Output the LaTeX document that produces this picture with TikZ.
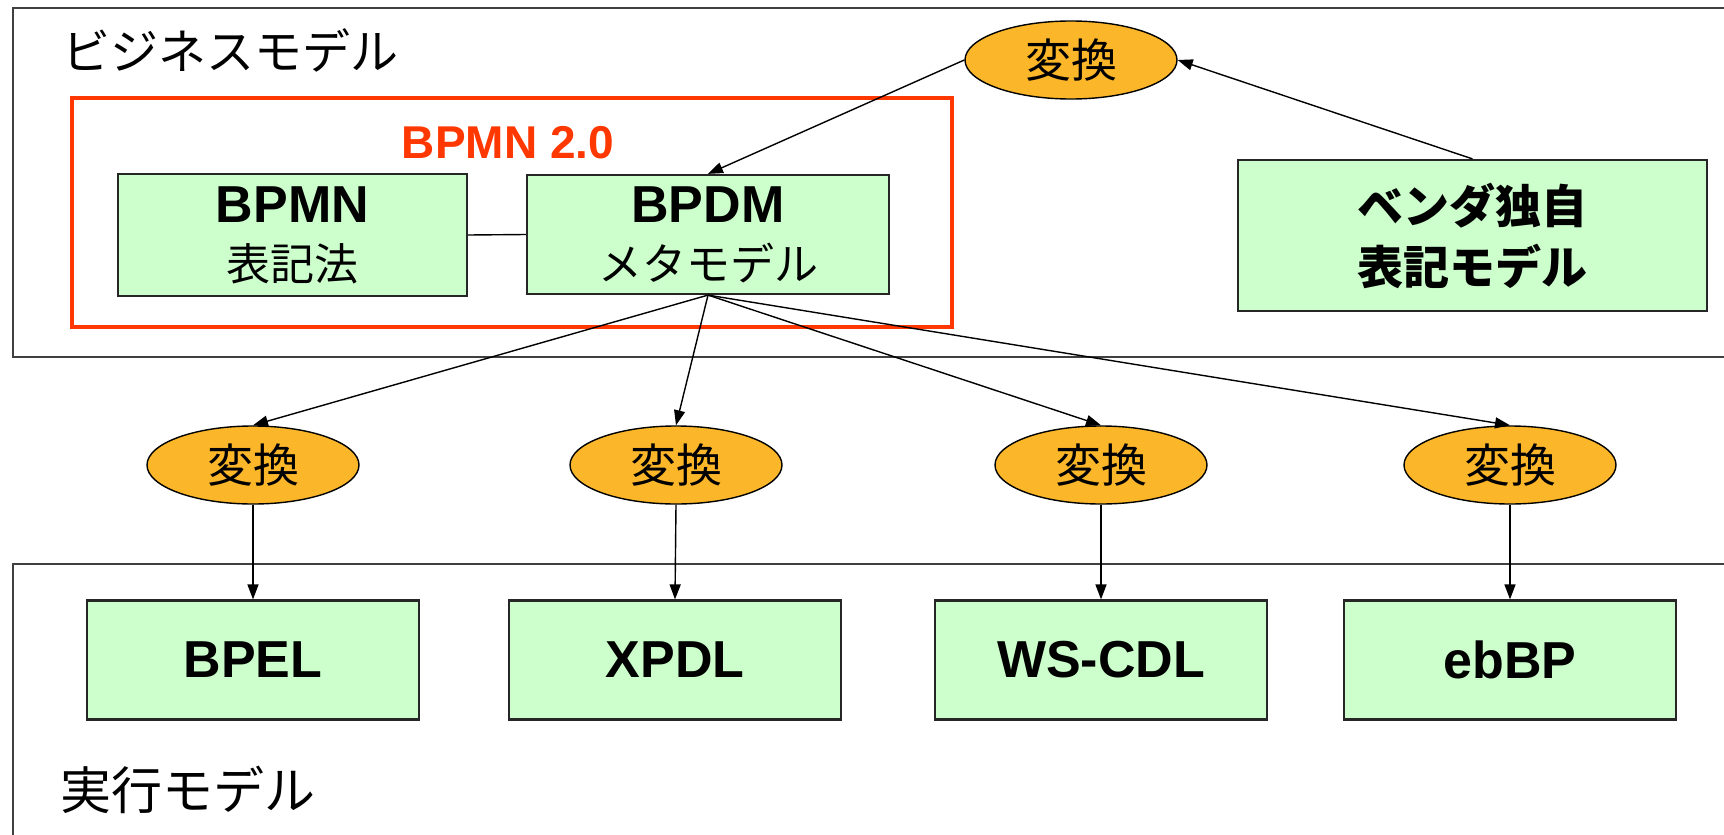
\documentclass[tikz,border=0pt]{standalone}
\usepackage{fontspec}
\setmainfont{Liberation Sans}
\newfontfamily\jp{Noto Sans CJK JP}
\usetikzlibrary{shapes.geometric,arrows.meta}
\definecolor{boxgreen}{RGB}{204,255,204}
\definecolor{convorange}{RGB}{252,182,41}
\definecolor{bpmnred}{RGB}{255,55,0}
\begin{document}
\begin{tikzpicture}[x=1pt,y=-1pt,
  box/.style={draw=black!85, line width=2.2pt, fill=boxgreen, inner sep=0pt, align=center},
  conv/.style={ellipse, draw=black, line width=1.4pt, fill=convorange, minimum width=212pt, minimum height=78pt, inner sep=0pt, font=\jp\fontsize{46}{50}\selectfont},
  arr/.style={line width=1.4pt, -{Triangle[length=15pt,width=11pt]}},
  frame/.style={draw=black!75, line width=2pt},
  latin/.style={font=\bfseries\fontsize{52}{58}\selectfont}]
\useasboundingbox (0,0) rectangle (1724,835);
\fill[white] (0,0) rectangle (1724,835);
% frames
\draw[frame] (1724,8) -- (13,8) -- (13,357) -- (1724,357);
\draw[frame] (1724,564) -- (13,564) -- (13,835);
\node[anchor=west, inner sep=0pt, font=\jp\fontsize{48}{50}\selectfont] (biz) at (62,50) {ビジネスモデル};
\node[anchor=west, inner sep=0pt, font=\jp\fontsize{51}{52}\selectfont] (exe) at (60,790) {実行モデル};
% BPMN 2.0 group
\node[draw=bpmnred, line width=4.5pt, minimum width=880pt, minimum height=229pt, inner sep=0pt] (grp) at (512,212.5) {};
\node[text=bpmnred, font=\bfseries\fontsize{46}{50}\selectfont, inner sep=0pt] (grplabel) at (508,143) {BPMN 2.0};
\node[box, minimum width=349pt, minimum height=122pt, font=\bfseries\fontsize{52}{58}\selectfont] (bpmn) at (292.5,235) {BPMN\\{\jp\mdseries\fontsize{44}{58}\selectfont 表記法}};
\node[box, minimum width=362pt, minimum height=119pt, font=\bfseries\fontsize{52}{58}\selectfont] (bpdm) at (708,234.5) {BPDM\\{\jp\mdseries\fontsize{44}{58}\selectfont メタモデル}};
\node[box, minimum width=469pt, minimum height=151pt, font=\jp\bfseries\fontsize{46}{61}\selectfont] (vendor) at (1472.5,235.5) {ベンダ独自\\表記モデル};
% conversions
\node[conv] (ct) at (1071,60) {変換};
\node[conv] (c1) at (253,465) {変換};
\node[conv] (c2) at (676,465) {変換};
\node[conv] (c3) at (1101,465) {変換};
\node[conv] (c4) at (1510,465) {変換};
% execution models
\node[box, latin, minimum width=332pt, minimum height=119pt] (bpel) at (253,660) {BPEL};
\node[box, latin, minimum width=332pt, minimum height=119pt] (xpdl) at (675,660) {XPDL};
\node[box, latin, minimum width=332pt, minimum height=119pt] (wscdl) at (1101,660) {WS-CDL};
\node[box, latin, minimum width=332pt, minimum height=119pt] (ebbp) at (1510,660) {ebBP};
% connectors
\draw[line width=1.4pt] (bpmn.east) -- (bpdm.west);
\draw[arr] (vendor.north) -- (ct.east);
\draw[arr] (ct.west) -- (bpdm.north);
\draw[arr] (bpdm.south) -- (c1.north);
\draw[arr] (bpdm.south) -- (c2.north);
\draw[arr] (bpdm.south) -- (c3.north);
\draw[arr] (bpdm.south) -- (c4.north);
\draw[arr] (c1.south) -- (bpel.north);
\draw[arr] (c2.south) -- (xpdl.north);
\draw[arr] (c3.south) -- (wscdl.north);
\draw[arr] (c4.south) -- (ebbp.north);
\end{tikzpicture}
\end{document}
